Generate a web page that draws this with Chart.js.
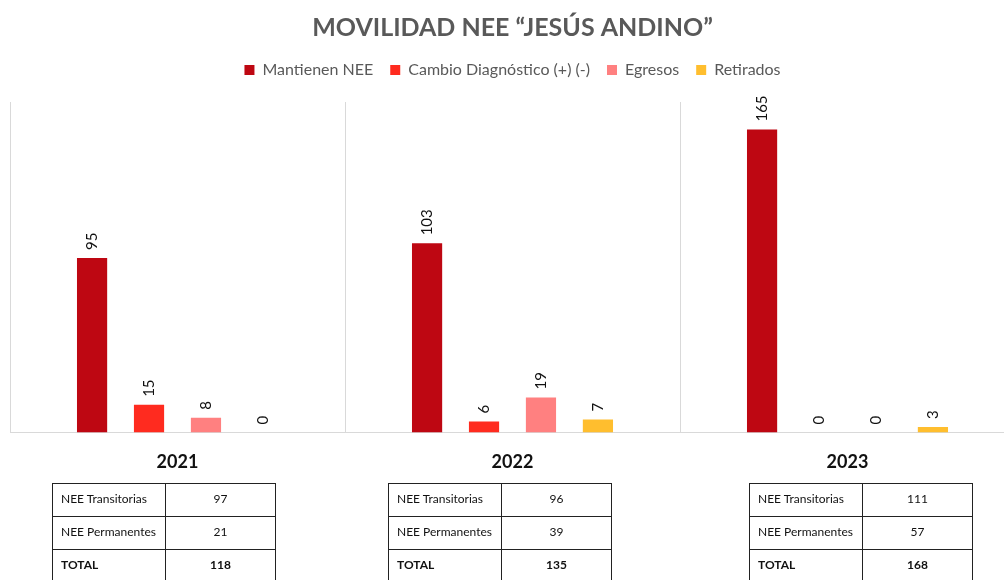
<!DOCTYPE html>
<html>
<head>
<meta charset="utf-8">
<script src="https://cdn.jsdelivr.net/npm/chart.js@4.4.1/dist/chart.umd.min.js"></script>
<style>
  html, body { margin: 0; padding: 0; background: #fff; overflow: hidden; }
  #wrap { position: absolute; left: 0; top: 0; width: 1020px; height: 498px; }
  table.nee {
    position: absolute; top: 483px; width: 224px; border-collapse: collapse;
    font-family: "Liberation Sans Narrow", Lato, sans-serif; font-size: 12px; color: #111;
  }
  table.nee td { border: 1.5px solid #222; height: 29px; padding: 0 0 3px 0; }
  table.nee td:first-child { width: 104px; padding-left: 8px; }
  table.nee td:last-child { text-align: center; }
  table.nee tr.total td { font-weight: bold; }
</style>
</head>
<body>
<div id="wrap"><canvas id="chart"></canvas></div>
<div id="tables"></div>
<script>
const years = ['2021', '2022', '2023']
const mantienen = [95, 103, 165]
const cambio = [15, 6, 0]
const egresos = [8, 19, 0]
const retirados = [0, 7, 3]

const transitorias = [97, 96, 111]
const permanentes = [21, 39, 57]
const totales = [118, 135, 168]

const tableLeft = [52, 388, 749]

// rotated value labels above each bar
const barLabels = {
    id: 'barLabels',
    afterDatasetsDraw(chart) {
        const ctx = chart.ctx
        ctx.save()
        ctx.font = '15px Lato, "Open Sans", sans-serif'
        ctx.fillStyle = '#111'
        ctx.textAlign = 'left'
        ctx.textBaseline = 'middle'
        chart.data.datasets.forEach((ds, i) => {
            chart.getDatasetMeta(i).data.forEach((bar, j) => {
                ctx.save()
                ctx.translate(bar.x, bar.y - 8)
                ctx.rotate(-Math.PI / 2)
                ctx.fillText(String(ds.data[j]), 0, 0)
                ctx.restore()
            })
        })
        ctx.restore()
    }
}

// a bit more room between legend and plot
const legendGap = {
    id: 'legendGap',
    beforeInit(chart) {
        const fit = chart.legend.fit
        chart.legend.fit = function () {
            fit.bind(chart.legend)()
            this.height += 14
        }
    }
}

const dataset = (label, data, color) => ({
    label: label,
    data: data,
    backgroundColor: color,
    categoryPercentage: 0.68,
    barPercentage: 0.53
})

new Chart('chart', {
    type: 'bar',
    data: {
        labels: years,
        datasets: [
            dataset('Mantienen NEE', mantienen, '#BE0712'),
            dataset('Cambio Diagnóstico (+) (-)', cambio, '#FF2B1F'),
            dataset('Egresos', egresos, '#FF8080'),
            dataset('Retirados', retirados, '#FFBE2E')
        ]
    },
    options: {
        responsive: true,
        maintainAspectRatio: false,
        animation: false,
        layout: { padding: { left: 10, right: 5, top: 9, bottom: 6 } },
        plugins: {
            title: {
                display: true,
                text: 'MOVILIDAD NEE “JESÚS ANDINO”',
                color: '#595959',
                font: { family: 'Lato, "Open Sans", sans-serif', size: 25, weight: 'bold' },
                padding: { top: 4, bottom: 2 }
            },
            legend: {
                labels: {
                    color: '#595959',
                    font: { family: 'Lato, "Open Sans", sans-serif', size: 16 },
                    boxWidth: 10,
                    boxHeight: 10,
                    padding: 17
                }
            },
            tooltip: { enabled: false }
        },
        scales: {
            x: {
                grid: { color: '#D9D9D9', drawTicks: false, offset: true },
                border: { color: '#D9D9D9' },
                ticks: {
                    color: '#111',
                    padding: 19,
                    font: { family: 'Lato, "Open Sans", sans-serif', size: 18, weight: 'bold' }
                }
            },
            y: {
                display: false,
                min: 0,
                max: 180
            }
        }
    },
    plugins: [barLabels, legendGap]
})

let html = ''
years.forEach((y, i) => {
    html += `<table class="nee" style="left:${tableLeft[i]}px">`
    html += `<tr><td>NEE Transitorias</td><td>${transitorias[i]}</td></tr>`
    html += `<tr><td>NEE Permanentes</td><td>${permanentes[i]}</td></tr>`
    html += `<tr class="total"><td>TOTAL</td><td>${totales[i]}</td></tr>`
    html += '</table>'
})
document.getElementById('tables').innerHTML = html
</script>
</body>
</html>
